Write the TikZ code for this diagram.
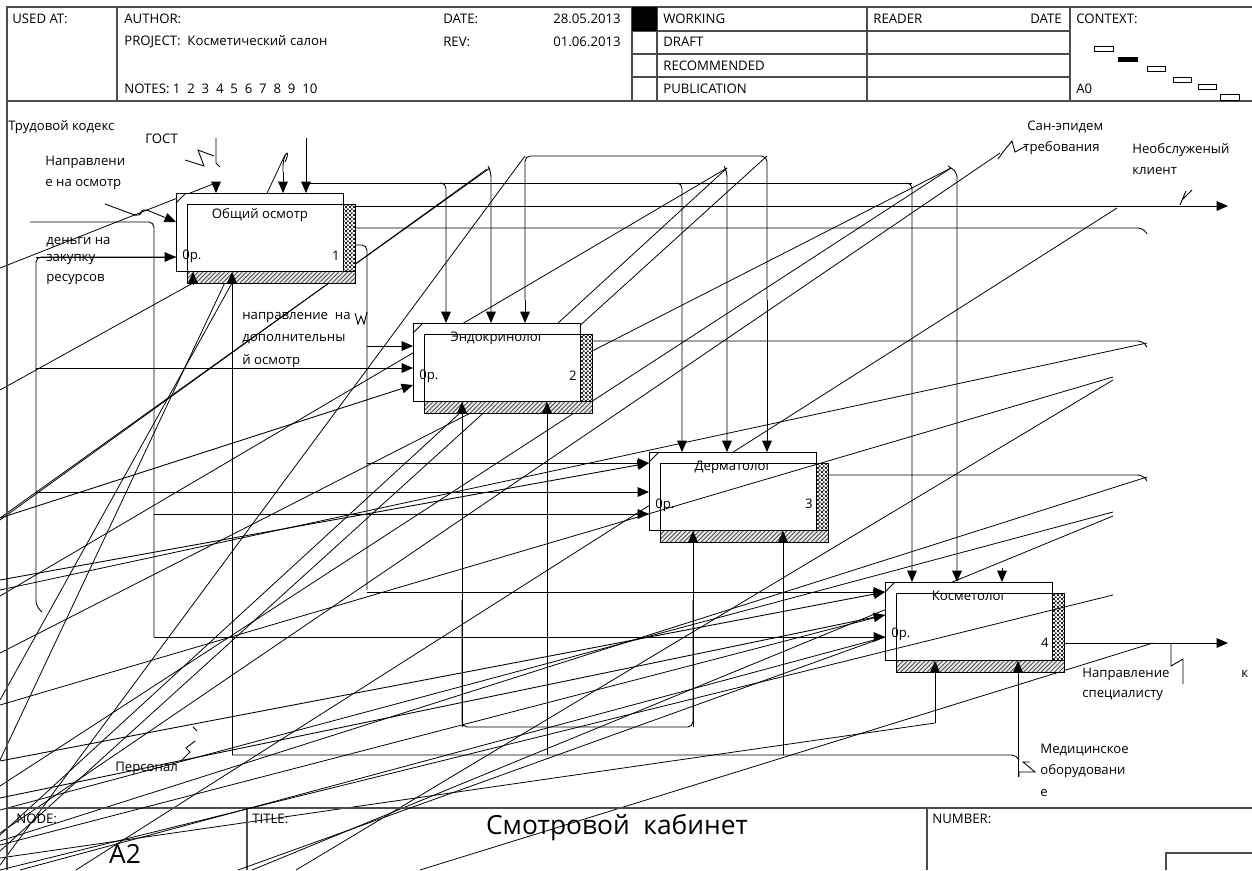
\documentclass[tikz,border=0pt]{standalone}
\usepackage{fontspec}
\setmainfont{Open Sans}
\usetikzlibrary{arrows.meta,patterns,calc}

\newcommand{\lblfont}{\fontsize{7.5}{9}\selectfont}
\newcommand{\bigfont}{\fontsize{15}{17}\selectfont}

% shadow textures of the activity boxes
\pgfdeclarepatternformonly{finecheck}{\pgfqpoint{0pt}{0pt}}{\pgfqpoint{2.4pt}{2.4pt}}{\pgfqpoint{2.4pt}{2.4pt}}{
  \pgfpathrectangle{\pgfqpoint{0pt}{0pt}}{\pgfqpoint{1.2pt}{1.2pt}}
  \pgfpathrectangle{\pgfqpoint{1.2pt}{1.2pt}}{\pgfqpoint{1.2pt}{1.2pt}}
  \pgfusepath{fill}
}
\pgfdeclarepatternformonly{finehatch}{\pgfqpoint{-0.5pt}{-0.5pt}}{\pgfqpoint{3pt}{3pt}}{\pgfqpoint{2.5pt}{2.5pt}}{
  \pgfsetlinewidth{0.5pt}
  \pgfpathmoveto{\pgfqpoint{0pt}{0pt}}
  \pgfpathlineto{\pgfqpoint{2.5pt}{2.5pt}}
  \pgfusepath{stroke}
}

\begin{document}
\begin{tikzpicture}[x=0.02cm,y=-0.02cm,
  frm/.style={draw=black!70, line width=0.8pt},
  wire/.style={line width=0.5pt, rounded corners=3pt},
  arr/.style={wire, -{Triangle[length=6.5pt,width=5.5pt]}},
  diag/.style={line width=0.45pt},
  txt/.style={font=\lblfont, inner sep=0pt, anchor=west},
  fn/.style={draw, fill=white, line width=0.5pt, minimum width=3.34cm, minimum height=1.56cm, anchor=north west, inner sep=0pt},
  sidehatch/.style={draw, line width=0.5pt, preaction={fill=white}, pattern=finecheck, pattern color=black!85},
  basehatch/.style={draw, line width=0.5pt, preaction={fill=black!8}, pattern=finehatch, pattern color=black!70}
]
\useasboundingbox (0,0) rectangle (1252,870);
\fill[white] (0,0) rectangle (1252,870);

% stray straight segments (under the boxes)
\draw[diag] (490,168) -- (0,518);
\draw[diag] (487,169) -- (0,520);
\draw[diag] (525,156) -- (0,865);
\draw[diag] (767,156) -- (0,851);
\draw[diag] (727,168) -- (0,835);
\draw[diag] (727,168) -- (0,596);
\draw[diag] (951,168) -- (0,653);
\draw[diag] (951,168) -- (0,786);
\draw[diag] (1000,153) -- (0,833);
\draw[diag] (1117,208) -- (76,870);
\draw[diag] (1147,343) -- (0,590);
\draw[diag] (1113,380) -- (296,870);
\draw[diag] (1147,477) -- (0,841);
\draw[diag] (1113,512) -- (0,810);
\draw[diag] (1113,516) -- (252,870);
\draw[diag] (1153,643) -- (420,870);
\draw[diag] (935,723) -- (0,858);
\draw[diag] (213,184) -- (0,268);
\draw[diag] (285,155) -- (0,760);
\draw[diag] (193,283) -- (0,390);
\draw[diag] (232,283) -- (0,700);

% header
\draw[frm] (7,870) -- (7,7) -- (1252,7);
\draw[frm] (7,101) -- (1252,101);
\foreach \xx in {117,632,657,867,1070} \draw[frm] (\xx,7) -- (\xx,101);
\foreach \yy in {31,54,77} \draw[frm] (632,\yy) -- (1070,\yy);
\fill (632,7) rectangle (657,31);
\node[txt] (usedat) at (12,19) {USED AT:};
\node[txt] (author) at (124,19) {AUTHOR:};
\node[txt] (project) at (124,42) {PROJECT:\ \ Косметический салон};
\node[txt] (notes) at (124,89) {NOTES: 1\ \ 2\ \ 3\ \ 4\ \ 5\ \ 6\ \ 7\ \ 8\ \ 9\ \ 10};
\node[txt] (date) at (443,19) {DATE:};
\node[txt] (rev) at (443,42) {REV:};
\node[txt] (dateval) at (553,19) {28.05.2013};
\node[txt] (revval) at (553,42) {01.06.2013};
\node[txt] (working) at (663,19) {WORKING};
\node[txt] (draft) at (663,42) {DRAFT};
\node[txt] (recommended) at (663,66) {RECOMMENDED};
\node[txt] (publication) at (663,89) {PUBLICATION};
\node[txt] (reader) at (873,19) {READER};
\node[txt] (rdate) at (1030,19) {DATE};
\node[txt] (context) at (1076,19) {CONTEXT:};
\node[txt] (azero) at (1076,89) {A0};
\draw[line width=0.5pt] (1094,46) rectangle (1113,51);
\fill (1118,57) rectangle (1138,62);
\draw[line width=0.5pt] (1147,66) rectangle (1165,71);
\draw[line width=0.5pt] (1173,77) rectangle (1191,82);
\draw[line width=0.5pt] (1198,84) rectangle (1216,89);
\draw[line width=0.5pt] (1220,94) rectangle (1239,100);

% footer
\draw[frm] (7,808) -- (1252,808);
\draw[frm] (247,808) -- (247,870);
\draw[frm] (927,808) -- (927,870);
\draw[frm] (1166,870) -- (1166,853) -- (1252,853);
\node[txt] (nodelbl) at (16,819) {NODE:};
\node[txt] (titlelbl) at (252,819) {TITLE:};
\node[txt] (numberlbl) at (932,819) {NUMBER:};
\node[font=\bigfont, inner sep=0pt] (nodeno) at (125,854) {A2};
\node[font=\bigfont, inner sep=0pt] (title) at (617,828) {Смотровой\ \ кабинет};

% activity boxes
\node[fn] (b1) at (176,193) {};
\node[fn] (b2) at (413,323) {};
\node[fn] (b3) at (649,452) {};
\node[fn] (b4) at (885,582) {};
\foreach \n/\t/\ty/\py/\ky/\k in {b1/Общий осмотр/22/63/63/1,
    b2/Эндокринолог/15/53/53/2,
    b3/Дерматолог/15/53/52/3,
    b4/Косметолог/14/52/61/4} {
  \draw[sidehatch] ($(\n.north west)+(167,11)$) rectangle ($(\n.north west)+(179,78)$);
  \draw[basehatch] ($(\n.north west)+(11,78)$) rectangle ($(\n.north west)+(179,90)$);
  \draw[line width=0.5pt] ($(\n.north west)+(11,11)$) rectangle ($(\n.north west)+(179,90)$);
  \draw[diag] ($(\n.north west)+(0,10)$) -- ($(\n.north west)+(10,0)$);
  \node[font=\lblfont, inner sep=0pt] (\n t) at ($(\n.north west)+(84,\ty)$) {\t};
  \node[txt] (\n c) at ($(\n.north west)+(6,\py)$) {0р.};
  \node[font=\lblfont, inner sep=0pt] (\n k) at ($(\n.north west)+(160,\ky)$) {\k};
}

% stray straight segments (over the boxes)
\draw[diag] (1113,377) -- (0,705);
\draw[diag] (1113,595) -- (0,870);
\draw[arr] (0,580) -- (b3.west |- 0,463);
\draw[arr] (0,761) -- (b4.west |- 0,592);
\draw[arr] (0,798) -- (b4.west |- 0,615);
\draw[diag] (0,845) -- (b4.west |- 0,615);
\draw[diag] (20,870) -- (b4.west |- 0,637);
\draw[diag] (238,870) -- (b4.west |- 0,637);

% labels
\node[txt] (trud) at (8,127) {Трудовой кодекс};
\node[txt] (gost) at (145,139) {ГОСТ};
\node[txt] (napr1) at (45,162) {Направлени};
\node[txt] (napr2) at (45,184) {е на осмотр};
\node[txt] (den1) at (46,242) {деньги на};
\node[txt] (den2) at (46,259) {закупку};
\node[txt] (den3) at (46,279) {ресурсов};
\node[txt] (dop1) at (242,317) {направление\ \ на};
\node[txt] (dop2) at (242,339) {дополнительны};
\node[txt] (dop3) at (242,361) {й осмотр};
\node[txt] (san1) at (1027,127) {Сан-эпидем};
\node[txt] (san2) at (1023,148) {требования};
\node[txt] (neob1) at (1132,150) {Необслуженый};
\node[txt] (neob2) at (1132,171) {клиент};
\node[txt] (pers) at (115,768) {Персонал};
\node[txt] (med1) at (1040,750) {Медицинское};
\node[txt] (med2) at (1040,771) {оборудовани};
\node[txt] (med3) at (1040,793) {е};
\node[txt] (spec1) at (1082,674) {Направление};
\node[txt] (spec2) at (1082,695) {специалисту};
\node[txt] (spec3) at (1241,674) {к};

% squiggles
\draw[line width=0.5pt] (185,160) -- (204,166) -- (198,150) -- (214,156);
\draw[line width=0.5pt] (216,138) -- (216,163) -- (220,167);
\draw[line width=0.5pt] (283,172) .. controls (282,150) and (292,148) .. (285,162);
\draw[line width=0.5pt] (355,313) -- (358,324) -- (361,316) -- (364,324) -- (367,312);
\draw[line width=0.5pt] (998,159) -- (1003,152) -- (1012,141) -- (1015,152) -- (1026,146);
\draw[line width=0.5pt] (1180,205) -- (1186,191) -- (1182,200) -- (1192,190);
\draw[line width=0.5pt] (1171,643) -- (1171,666) -- (1183,659) -- (1183,684);
\draw[line width=0.5pt] (1019,777) -- (1019,772) -- (1035,772) -- (1023,762) -- (1030,762);
\draw[line width=0.5pt] (182,760) -- (190,752) -- (186,748) -- (195,741);
\draw[line width=0.5pt] (193,727) -- (197,731);

% controls
\draw[arr] (216,184) -- (216,0 |- b1.north);
\draw[arr] (283,172) -- (283,0 |- b1.north);
\draw[arr] (306,138) -- (306,0 |- b1.north);
\draw[wire] (306,183) -- (912,183);
\draw[arr] (440,183) -- (446,183) -- (446,0 |- b2.north);
\draw[arr] (676,183) -- (682,183) -- (682,0 |- b3.north);
\draw[arr] (906,183) -- (912,183) -- (912,0 |- b4.north);
\draw[arr] (488,166) -- (491,172) -- (491,0 |- b2.north);
\draw[arr] (724,166) -- (727,172) -- (727,0 |- b3.north);
\draw[arr] (948,166) -- (957,172) -- (957,0 |- b4.north);
\draw[wire] (525,300) -- (525,156) -- (767,156) -- (767,300);
\draw[arr] (525,300) -- (525,0 |- b2.north);
\draw[arr] (767,300) -- (767,0 |- b3.north);
\draw[arr] (1002,568) -- (1002,0 |- b4.north);

% inputs
\draw[arr] (105,204) -- (140,217) -- (142,208) -- (176,222);
\draw[wire] (30,222) -- (154,222) -- (154,637);
\draw[arr] (154,514) -- (649,514);
\draw[arr] (154,637) -- (885,637);
\draw[wire] (42,612) -- (36,606) -- (36,257) -- (176,257);
\draw[arr] (36,257) -- (b1.west |- 0,257);
\draw[arr] (36,368) -- (413,368);
\draw[arr] (36,492) -- (649,492);
\draw[wire] (356,245) -- (367,245) -- (367,590);
\draw[arr] (367,346) -- (413,346);
\draw[arr] (367,463) -- (649,463);
\draw[arr] (367,592) -- (885,592);
\draw[arr] (0,518) -- (413,385);

% outputs
\draw[arr] (356,206) -- (1228,206);
\draw[wire] (356,228) -- (1143,228) -- (1147,234);
\draw[wire] (593,341) -- (1143,341) -- (1147,347);
\draw[wire] (828,475) -- (1143,475) -- (1147,481);
\draw[arr] (1064,643) -- (1228,643);

% mechanisms
\draw[arr] (232,755) -- (232,0 |- b1.south);
\draw[arr] (193,285) -- (193,0 |- b1.south);
\draw[wire] (232,755) -- (1017,755) -- (1019,760);
\draw[arr] (547,755) -- (547,0 |- b2.south);
\draw[arr] (783,755) -- (783,0 |- b3.south);
\draw[wire] (462,600) |- (693,727) -- (693,600);
\draw[arr] (462,727) -- (462,0 |- b2.south);
\draw[arr] (693,727) -- (693,0 |- b3.south);
\draw[arr] (935,723) -- (935,0 |- b4.south);
\draw[arr] (1018,777) -- (1018,0 |- b4.south);
\end{tikzpicture}
\end{document}
